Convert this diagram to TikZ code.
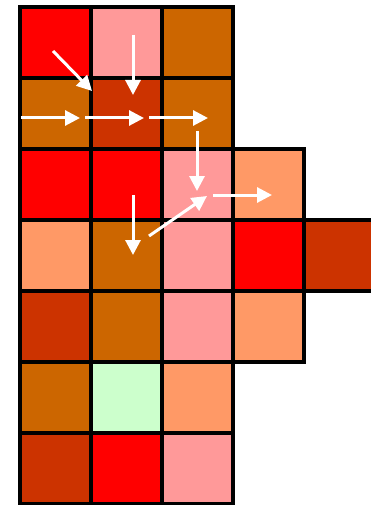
\documentclass[tikz,border=0pt]{standalone}
\usetikzlibrary{arrows.meta}
\definecolor{cred}{HTML}{FF0000}
\definecolor{cpink}{HTML}{FF9999}
\definecolor{cbrown}{HTML}{CC6600}
\definecolor{crust}{HTML}{CC3300}
\definecolor{corange}{HTML}{FF9966}
\definecolor{cgreen}{HTML}{CCFFCC}
\begin{document}
\begin{tikzpicture}[x=1pt,y=-1pt,
  cell/.style={draw=black, line width=4pt, minimum size=71pt, inner sep=0pt, outer sep=0pt},
  flow/.style={white, line width=3pt, -{Triangle[length=15pt,width=15pt]}}]
\useasboundingbox (0,0) rectangle (371,505);
\clip (0,0) rectangle (371,505);
\def\cx#1{19.5+71*#1+35.5}
% row 0
\node[cell, fill=cred]   (c00) at (55,42.5) {};
\node[cell, fill=cpink]  (c01) at (126,42.5) {};
\node[cell, fill=cbrown] (c02) at (197,42.5) {};
% row 1
\node[cell, fill=cbrown] (c10) at (55,113.5) {};
\node[cell, fill=crust]  (c11) at (126,113.5) {};
\node[cell, fill=cbrown] (c12) at (197,113.5) {};
% row 2
\node[cell, fill=cred]    (c20) at (55,184.5) {};
\node[cell, fill=cred]    (c21) at (126,184.5) {};
\node[cell, fill=cpink]   (c22) at (197,184.5) {};
\node[cell, fill=corange] (c23) at (268,184.5) {};
% row 3
\node[cell, fill=corange] (c30) at (55,255.5) {};
\node[cell, fill=cbrown]  (c31) at (126,255.5) {};
\node[cell, fill=cpink]   (c32) at (197,255.5) {};
\node[cell, fill=cred]    (c33) at (268,255.5) {};
\node[cell, fill=crust]   (c34) at (339,255.5) {};
% row 4
\node[cell, fill=crust]   (c40) at (55,326.5) {};
\node[cell, fill=cbrown]  (c41) at (126,326.5) {};
\node[cell, fill=cpink]   (c42) at (197,326.5) {};
\node[cell, fill=corange] (c43) at (268,326.5) {};
% row 5
\node[cell, fill=cbrown]  (c50) at (55,397.5) {};
\node[cell, fill=cgreen]  (c51) at (126,397.5) {};
\node[cell, fill=corange] (c52) at (197,397.5) {};
% row 6
\node[cell, fill=crust]   (c60) at (55,468.5) {};
\node[cell, fill=cred]    (c61) at (126,468.5) {};
\node[cell, fill=cpink]   (c62) at (197,468.5) {};
% arrow end points
\coordinate (a1s) at (53,51);  \coordinate (a1e) at (92,91);
\coordinate (a2s) at (133,35); \coordinate (a2e) at (133,95);
\coordinate (a3s) at (21,118); \coordinate (a3e) at (80,118);
\coordinate (a4s) at (85,118); \coordinate (a4e) at (144,118);
\coordinate (a5s) at (149,118); \coordinate (a5e) at (208,118);
\coordinate (a6s) at (197,131); \coordinate (a6e) at (197,191);
\coordinate (a7s) at (213,195); \coordinate (a7e) at (272,195);
\coordinate (a8s) at (133,195); \coordinate (a8e) at (133,255);
\coordinate (a9s) at (149,236); \coordinate (a9e) at (207,196);
\draw[flow] (a1s) -- (a1e);
\draw[flow] (a2s) -- (a2e);
\draw[flow] (a3s) -- (a3e);
\draw[flow] (a4s) -- (a4e);
\draw[flow] (a5s) -- (a5e);
\draw[flow] (a6s) -- (a6e);
\draw[flow] (a7s) -- (a7e);
\draw[flow] (a8s) -- (a8e);
\draw[flow] (a9s) -- (a9e);
\end{tikzpicture}
\end{document}
